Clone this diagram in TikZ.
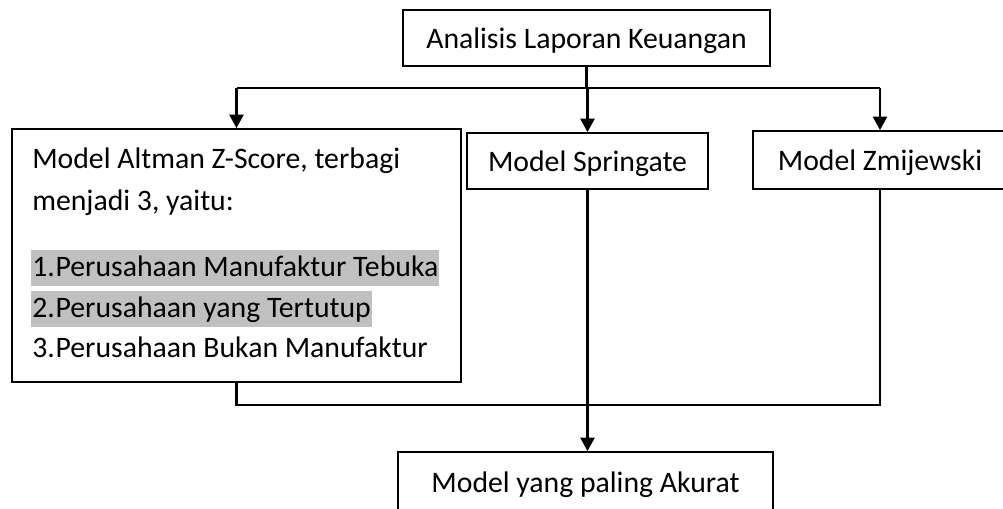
\documentclass[tikz,border=0pt]{standalone}
\usepackage{fontspec}
\setmainfont{Carlito}
\usetikzlibrary{arrows.meta}
\definecolor{hlgray}{HTML}{C0C0C0}
\tikzset{
	box/.style={draw, line width=1.4pt, inner sep=0pt, text height=19.5pt, text depth=4.5pt},
	link/.style={line width=1.6pt},
	arr/.style={line width=1.6pt, -{Triangle[length=10pt,width=10.5pt]}},
	hl/.style={fill=hlgray, inner xsep=0.75pt, inner ysep=0pt, text height=19.5pt, text depth=7.5pt, anchor=base west},
	line/.style={inner sep=0pt, anchor=base west}
}
\newcommand{\numitem}[2]{\makebox[17.5pt][l]{#1}#2}

\begin{document}
\begin{tikzpicture}[x=0.75pt,y=-0.75pt,font=\fontsize{22.3}{26}\selectfont]
	\useasboundingbox (0,0) rectangle (1003,508);

	% boxes
	\node[box,minimum width=275.25pt,minimum height=42pt] (top) at (586.5,38) {Analisis Laporan Keuangan};
	\node[box,minimum width=336.75pt,minimum height=189.75pt] (altman) at (236.5,255.5) {};
	\node[box,minimum width=180.75pt,minimum height=42pt] (spring) at (587.5,161) {Model Springate};
	\node[box,minimum width=190.5pt,minimum height=43.5pt] (zmij) at (880,160) {Model Zmijewski};
	\node[box,minimum width=281.25pt,minimum height=45pt] (result) at (585.5,482) {Model yang paling Akurat};

	% text of the Altman box
	\node[line] (alt1) at (32,168) {Model Altman Z-Score, terbagi};
	\node[line] (alt2) at (32,210) {menjadi 3, yaitu:};
	\node[hl] (alt3) at (31,276) {\numitem{1.}{Perusahaan Manufaktur Tebuka}};
	\node[hl] (alt4) at (31,317) {\numitem{2.}{Perusahaan yang Tertutup}};
	\node[line] (alt5) at (32,357) {\numitem{3.}{Perusahaan Bukan Manufaktur}};

	% connectors
	\coordinate (bus) at (0,88);
	\coordinate (join) at (0,405);
	\draw[link] (top.south) -- (top.south |- bus);
	\draw[link] (altman.north |- bus) -- (zmij.north |- bus);
	\foreach \n in {altman,spring,zmij}
		\draw[arr] (\n.north |- bus) -- (\n.north);

	\draw[link] (altman.south) -- (altman.south |- join) -- (zmij.south |- join) -- (zmij.south);
	\draw[arr] (spring.south) -- (spring.south |- result.north);
\end{tikzpicture}
\end{document}
